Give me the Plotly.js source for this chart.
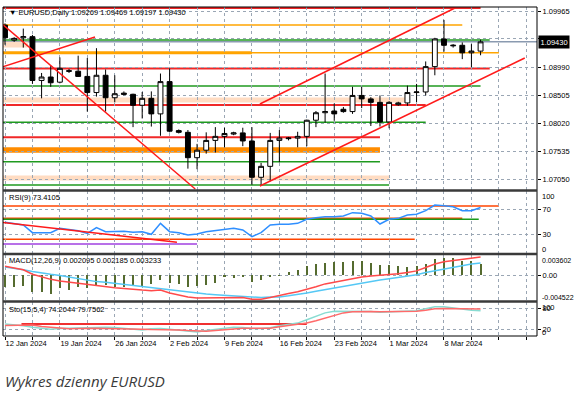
<!DOCTYPE html>
<html><head><meta charset="utf-8">
<script src="https://cdn.plot.ly/plotly-3.0.1.min.js"></script>
<style>html,body{margin:0;padding:0;background:#fff;overflow:hidden}</style>
</head><body><div id="chart" style="width:575px;height:393px"></div>
<script>
// ---------------- data ----------------
const barIdx = [0,1,2,3,4,5,6,7,8,9,10,11,12,13,14,15,16,17,18,19,20,21,22,23,24,25,26,27,28,29,30,31,32,33,34,35,36,37,38,39,40,41,42,43,44,45,46,47,48,49,50,51,52];
const openP  = [1.0972,1.0946,1.0950,1.0952,1.0876,1.0882,1.0873,1.0893,1.0892,1.0883,1.0855,1.0885,1.0846,1.0854,1.0852,1.0833,1.0845,1.0818,1.0874,1.0789,1.0786,1.0742,1.0755,1.0772,1.0779,1.0783,1.0785,1.0771,1.0708,1.0727,1.0772,1.0775,1.0776,1.0779,1.0807,1.0820,1.0823,1.0826,1.0822,1.0850,1.0844,1.0838,1.0804,1.0834,1.0837,1.0855,1.0856,1.0900,1.0948,1.0936,1.0937,1.0924,1.09269];
const highP  = [1.0975,1.0951,1.0966,1.0955,1.0889,1.0901,1.0916,1.0896,1.0919,1.0915,1.0932,1.0895,1.0885,1.0857,1.0853,1.0856,1.0857,1.0888,1.0897,1.0791,1.0790,1.0766,1.0786,1.0795,1.0794,1.0787,1.0794,1.0795,1.0733,1.0785,1.0790,1.0778,1.0787,1.0808,1.0823,1.0888,1.0836,1.0830,1.0865,1.0865,1.0847,1.0850,1.0840,1.0839,1.0867,1.0870,1.0909,1.0950,1.0981,1.0939,1.0942,1.0939,1.09469];
const lowP   = [1.0938,1.0943,1.0933,1.0870,1.0845,1.0865,1.0871,1.0889,1.0882,1.0822,1.0848,1.0822,1.0838,1.0850,1.0795,1.0810,1.0796,1.0780,1.0786,1.0784,1.0723,1.0722,1.0749,1.0751,1.0760,1.0781,1.0762,1.0695,1.0695,1.0701,1.0734,1.0772,1.0760,1.0762,1.0795,1.0803,1.0806,1.0820,1.0818,1.0828,1.0797,1.0796,1.0793,1.0832,1.0832,1.0838,1.0850,1.0885,1.0926,1.0933,1.0913,1.0899,1.09197];
const closeP = [1.0950,1.0949,1.0952,1.0876,1.0882,1.0872,1.0897,1.0892,1.0883,1.0855,1.0885,1.0846,1.0853,1.0852,1.0833,1.0845,1.0818,1.0874,1.0788,1.0786,1.0742,1.0755,1.0772,1.0779,1.0784,1.0785,1.0771,1.0708,1.0727,1.0772,1.0776,1.0776,1.0779,1.0807,1.0820,1.0822,1.0818,1.0822,1.0850,1.0844,1.0838,1.0804,1.0838,1.0837,1.0855,1.0856,1.0900,1.0948,1.0937,1.0937,1.0924,1.0927,1.09430];

const rsi = [49.5,47.8,45.2,32.8,33.3,32.8,39.8,38.2,36.0,31.7,40.9,34.4,34.9,34.9,33.3,34.4,30.1,47.8,34.4,32.8,29.0,30.6,34.4,36.0,38.2,39.8,37.1,26.3,32.8,45.2,46.2,46.2,47.8,54.3,57.0,58.6,58.6,59.7,65.1,64.0,59.7,46.8,54.3,55.9,61.3,62.4,68.3,77.4,76.3,74.7,68.3,68.3,73.41];

const macdHist = [-0.0020,-0.0021,-0.0019,-0.0029,-0.0029,-0.0032,-0.0023,-0.0026,-0.0021,-0.0023,-0.0019,-0.0017,-0.0020,-0.0020,-0.0017,-0.0020,-0.0016,-0.0008,-0.0014,-0.0016,-0.0021,-0.0019,-0.0017,-0.0014,-0.0003,-0.0005,-0.0003,-0.0011,-0.0009,-0.0002,-0.0001,0.00065,0.00095,0.00166,0.00201,0.00224,0.00242,0.00242,0.0026,0.0026,0.00224,0.00184,0.00184,0.00166,0.00154,0.00171,0.00201,0.00284,0.00302,0.00302,0.0026,0.0026,0.002095];
const macdMain = [0.0016,0.0013,0.0010,0.0002,-0.0003,-0.0007,-0.0010,-0.0012,-0.0014,-0.0017,-0.0018,-0.0020,-0.0022,-0.0023,-0.0025,-0.0026,-0.0027,-0.0026,-0.0031,-0.0035,-0.0038,-0.0040,-0.0040,-0.0040,-0.0039,-0.0039,-0.0039,-0.0042,-0.0042,-0.0039,-0.0035,-0.0032,-0.0029,-0.0025,-0.0020,-0.0015,-0.0012,-0.0009,-0.0005,-0.0003,-0.0001,0.0000,0.0001,0.0003,0.0005,0.0008,0.0014,0.0020,0.0024,0.0026,0.0028,0.0030,0.003233];
const macdSignal = [0.0015,0.0013,0.0010,0.0007,0.0004,0.0002,0.0000,-0.0003,-0.0005,-0.0008,-0.0011,-0.0012,-0.0014,-0.0015,-0.0017,-0.0019,-0.0021,-0.0023,-0.0025,-0.0027,-0.0029,-0.0031,-0.0033,-0.0034,-0.0035,-0.0036,-0.0037,-0.0038,-0.0039,-0.0038,-0.0038,-0.0036,-0.0034,-0.0031,-0.0028,-0.0025,-0.0023,-0.0020,-0.0017,-0.0014,-0.0011,-0.0008,-0.0006,-0.0004,-0.0002,0.0001,0.0005,0.0008,0.0012,0.0015,0.0018,0.0020,0.002185];

const stoMain = [35,33,30,26,22,20,22,23,25,26,27,26,25,23,20,18,21,22,20,18,15,12,16,20,24,26,25,22,22,24,30,34,38,48,58,68,73,73,73,73,72,70,71,72,72,74,80,86,86,82,78,76,74.2];
const stoSignal = [31,32,33,32,28,25,22,21,22,23,23,22,22,22,21,20,19,19,19,18,16,14,14,16,19,22,23,23,22,23,27,30,34,38,45,53,62,68,71,72,72,71,71,71,72,73,76,80,81,81,81,80,79.76];

const dateTickBars = [0,6,12,18,24,30,36,42,48];
const dateTickText = ['12 Jan 2024','19 Jan 2024','26 Jan 2024','2 Feb 2024','9 Feb 2024','16 Feb 2024','23 Feb 2024','1 Mar 2024','8 Mar 2024'];
const gridBars = [3,9,15,21,27,33,39,45,51,54,57];
const priceTicks = [1.09965,1.09480,1.08990,1.08505,1.08020,1.07535,1.07050];
const priceTickText = ['1.09965','','1.08990','1.08505','1.08020','1.07535','1.07050'];
const bidPrice = 1.09430;

// horizontal levels on the price panel: [level, endBar]
const redLevels    = [[1.10017,52],[1.08967,53],[1.08334,46],[1.07774,41]];
const orangeLevels = [[1.09722,50],[1.09242,54]];
const greenLevels  = [[1.09460,53],[1.08664,52],[1.08034,46],[1.07350,41],[1.06946,42]];
const peachLevels  = [[1.08421,44],[1.07068,42]];
const thickOrangeLow = [1.07553,41];
const thickOrangeTop = [1.09242,27];
// trend lines: [bar0, price0, bar1, price1]
const trendLines = [[-0.3,1.09739,20.8,1.06877],[-0.3,1.08993,9.84,1.09514],[27.87,1.08351,49.2,1.10017],[27.87,1.06929,56.83,1.09150]];
// RSI panel levels
const rsiLevels = [[75.8,54,'#ff4500'],[56.0,50,'#ff4500'],[54.4,51.8,'#1a9a1a'],[22.1,44.8,'#ff4500'],[14.5,21,'#a040e0']];
const rsiTrend = [-0.3,49.5,18.8,17.3];
const stoLevel = [1.8,33,35];

// ---------------- layout helpers ----------------
const TOP=7, BOT=336, H=BOT-TOP;
const py = v => (BOT - v)/H;
const dom = (a,b) => [py(b), py(a)];

const traces = [];
traces.push({type:'candlestick', x:barIdx, open:openP, high:highP, low:lowP, close:closeP,
  xaxis:'x', yaxis:'y', whiskerwidth:0, hoverinfo:'skip',
  increasing:{line:{color:'#000',width:1}, fillcolor:'#fff'},
  decreasing:{line:{color:'#000',width:1}, fillcolor:'#000'}});
traces.push({type:'scatter', mode:'lines', x:barIdx, y:rsi, xaxis:'x', yaxis:'y2',
  line:{color:'#2f8fff', width:1.5}, hoverinfo:'skip'});
traces.push({type:'bar', x:barIdx, y:macdHist, xaxis:'x', yaxis:'y3', width:0.22,
  marker:{color:'#556b2f', line:{width:0}}, hoverinfo:'skip'});
traces.push({type:'scatter', mode:'lines', x:barIdx, y:macdSignal, xaxis:'x', yaxis:'y3',
  line:{color:'#55c8f5', width:1.5}, hoverinfo:'skip'});
traces.push({type:'scatter', mode:'lines', x:barIdx, y:macdMain, xaxis:'x', yaxis:'y3',
  line:{color:'#ff4a4a', width:1.5}, hoverinfo:'skip'});
traces.push({type:'scatter', mode:'lines', x:barIdx, y:stoMain, xaxis:'x', yaxis:'y4',
  line:{color:'#88dcd2', width:1.5}, hoverinfo:'skip'});
traces.push({type:'scatter', mode:'lines', x:barIdx, y:stoSignal, xaxis:'x', yaxis:'y4',
  line:{color:'#ff6a6a', width:1.5}, hoverinfo:'skip'});

const shapes = [];
const hline = (yref, lvl, x1, color, w) => shapes.push({type:'line', xref:'x', yref:yref, x0:-2, x1:x1, y0:lvl, y1:lvl, line:{color:color, width:w}, layer:'below'});
peachLevels.forEach(l => hline('y', l[0], l[1], '#ffdcc2', 5));
hline('y', thickOrangeLow[0], thickOrangeLow[1], '#ff8c00', 5.5);
hline('y', thickOrangeTop[0], thickOrangeTop[1], '#ffa000', 3);
orangeLevels.forEach(l => hline('y', l[0], l[1], '#ffa500', 1.5));
greenLevels.forEach(l => hline('y', l[0], l[1], '#1f9a1f', 1.5));
redLevels.forEach(l => hline('y', l[0], l[1], '#f02828', 2));
shapes.push({type:'rect', xref:'x', yref:'y', x0:-2, x1:2.5, y0:1.0933, y1:1.0943, fillcolor:'#ffdcc2', line:{width:0}, layer:'below'});
shapes.push({type:'line', xref:'paper', yref:'y', x0:0, x1:1, y0:bidPrice, y1:bidPrice, line:{color:'#8a9ab0', width:1.5}, layer:'below'});
trendLines.forEach(t => shapes.push({type:'line', xref:'x', yref:'y', x0:t[0], y0:t[1], x1:t[2], y1:t[3], line:{color:'#ff1a1a', width:1.5}}));
rsiLevels.forEach(l => hline('y2', l[0], l[1], l[2], 1.5));
shapes.push({type:'line', xref:'x', yref:'y2', x0:rsiTrend[0], y0:rsiTrend[1], x1:rsiTrend[2], y1:rsiTrend[3], line:{color:'#ff1a1a', width:1.5}});
shapes.push({type:'line', xref:'x', yref:'y4', x0:stoLevel[0], x1:stoLevel[1], y0:stoLevel[2], y1:stoLevel[2], line:{color:'#f03030', width:2}, layer:'below'});
// frames and separators
shapes.push({type:'rect', xref:'paper', yref:'paper', x0:0, x1:1, y0:0, y1:1, line:{color:'#000', width:1}});
[190.5, 254, 301.5].forEach(yy => shapes.push({type:'line', xref:'paper', yref:'paper', x0:0, x1:1, y0:py(yy), y1:py(yy), line:{color:'#3a3a3a', width:2.5}}));

const tf = {family:'Liberation Sans, Arial, sans-serif', size:7.5, color:'#000'};
const annotations = [];
const leftText = (t, ypx) => annotations.push({xref:'paper', yref:'paper', x:4/534, y:py(ypx), xanchor:'left', yanchor:'middle', text:t, showarrow:false, font:tf});
leftText('\u25BC EURUSD,Daily 1.09269 1.09469 1.09197 1.09430', 13);
leftText('RSI(9) 73.4105', 197.5);
leftText('MACD(12,26,9) 0.002095 0.002185 0.003233', 260.5);
leftText('Sto(15,5,4) 74.2044 79.7562', 309);
const rightText = (t, yref, v, shift, sz) => annotations.push({xref:'paper', yref:yref, x:1, xshift:3, y:v, yshift:shift, xanchor:'left', yanchor:'middle', text:t, showarrow:false, font:Object.assign({}, tf, {size:sz||7.5})});
rightText('100','y2',100,-5);
rightText('0','y2',0,4);
rightText('0.003602','y3',0.003602,-5, 7);
rightText('-0.004522','y3',-0.004522,4, 7);
rightText('100','y4',100,-5);
rightText('0','y4',0,4);
annotations.push({xref:'paper', yref:'y', x:1, xshift:1, y:bidPrice, xanchor:'left', yanchor:'middle', text:'1.09430', showarrow:false,
  font:{family:tf.family, size:7.5, color:'#fff'}, bgcolor:'#000', borderpad:1.5});
annotations.push({xref:'paper', yref:'paper', x:0, y:py(381), xanchor:'left', yanchor:'middle', text:'Wykres dzienny EURUSD', showarrow:false,
  font:{family:'Open Sans, sans-serif', size:15, color:'#3a3a3a', style:'italic'}});

const gridStyle = {showgrid:true, gridcolor:'#9aa6b4', griddash:'dot', gridwidth:1};
const yCommon = Object.assign({side:'right', ticks:'outside', ticklen:3, tickcolor:'#000', tickfont:tf, zeroline:false, showline:false, fixedrange:true}, gridStyle);

const layout = {
  width:575, height:393, margin:{l:3, r:38, t:TOP, b:393-BOT, pad:0},
  paper_bgcolor:'#fff', plot_bgcolor:'#fff', showlegend:false, hovermode:false,
  boxgap:0.24, bargap:0,
  xaxis: Object.assign({range:[-0.219, 58.17], anchor:'y4', tickmode:'array', tickvals:dateTickBars, ticktext:dateTickText,
     ticklabelposition:'outside right', ticks:'outside', ticklen:3, tickcolor:'#000', tickfont:tf, zeroline:false, showline:false,
     rangeslider:{visible:false}, fixedrange:true,
     minor:{tickmode:'array', tickvals:gridBars, ticks:'outside', ticklen:3, tickcolor:'#000', showgrid:true, gridcolor:'#9aa6b4', griddash:'dot', gridwidth:1}}, gridStyle),
  yaxis: Object.assign({}, yCommon, {domain:dom(7,190), range:[1.068594, 1.100344], tickmode:'array', tickvals:priceTicks, ticktext:priceTickText}),
  yaxis2: Object.assign({}, yCommon, {domain:dom(191,253), range:[0,100], tickmode:'array', tickvals:[30,70], ticktext:['30','70']}),
  yaxis3: Object.assign({}, yCommon, {domain:dom(255,301), range:[-0.004522,0.003602], tickmode:'array', tickvals:[0], ticktext:['0.00']}),
  yaxis4: Object.assign({}, yCommon, {domain:dom(302,336), range:[0,100], tickmode:'array', tickvals:[20,80], ticktext:['20','80']}),
  shapes: shapes, annotations: annotations
};

Plotly.newPlot('chart', traces, layout, {staticPlot:true, displayModeBar:false});
</script></body></html>
